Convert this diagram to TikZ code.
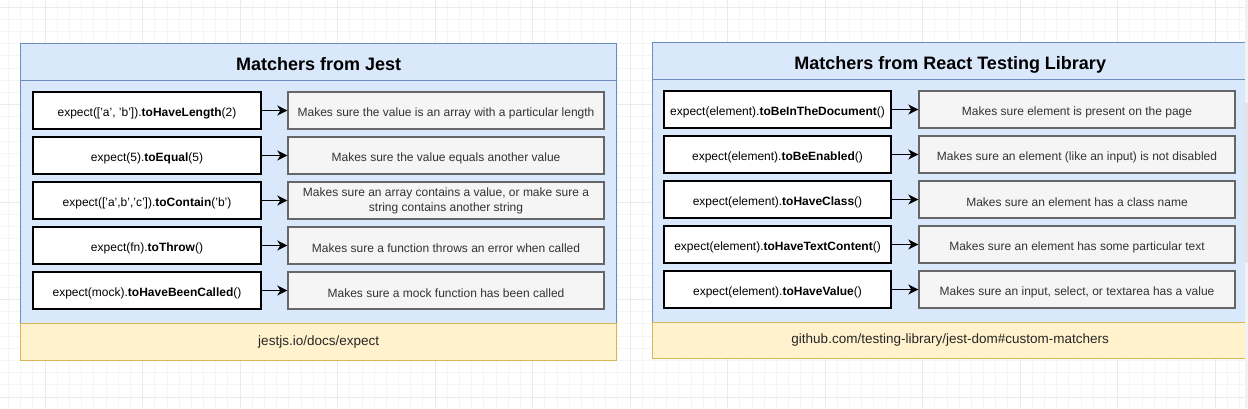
\documentclass[tikz,border=0pt]{standalone}
\usepackage{fontspec}
\setmainfont{Liberation Sans}
\usetikzlibrary{arrows.meta}
\definecolor{panelfill}{HTML}{DAE8FC}
\definecolor{paneldraw}{HTML}{6C8EBF}
\definecolor{footfill}{HTML}{FFF2CC}
\definecolor{footdraw}{HTML}{D6B656}
\definecolor{descfill}{HTML}{F5F5F5}
\definecolor{descdraw}{HTML}{666666}
\definecolor{desctext}{HTML}{333333}
\definecolor{gridminor}{HTML}{F5F5F5}
\definecolor{gridmajor}{HTML}{EAEAEA}
\definecolor{scrolltrack}{HTML}{F2F2F2}
\definecolor{scrollthumb}{HTML}{E4E4E4}
\newcommand\lowstrut{\rule{0pt}{13.6pt}}
\tikzset{
  gridminorline/.style={draw=gridminor, line width=0.8pt},
  gridmajorline/.style={draw=gridmajor, line width=1pt},
  panelbox/.style={draw=paneldraw, fill=panelfill, line width=1.3pt, inner sep=0pt, anchor=north west},
  paneltitle/.style={panelbox, font=\fontsize{18}{21}\selectfont\bfseries, text=black,
    text height=19.6pt, text depth=3.8pt},
  footbox/.style={draw=footdraw, fill=footfill, line width=1.3pt, inner sep=0pt, anchor=north west,
    font=\fontsize{13.5}{16}\selectfont, text=black!85},
  codebox/.style={draw=black, fill=white, line width=1.4pt, inner sep=0pt,
    font=\fontsize{12}{14}\selectfont, text=black, execute at begin node=\lowstrut},
  descbox/.style={draw=descdraw, fill=descfill, line width=1.4pt, inner sep=0pt,
    font=\fontsize{12}{15}\selectfont, text=desctext, align=center, execute at begin node=\lowstrut},
  arr/.style={draw=black, line width=1.4pt, -{Stealth[length=10pt, width=10pt, inset=3pt]}}
}
\begin{document}
\begin{tikzpicture}[x=1pt, y=-1pt]
\useasboundingbox[fill=white] (0,0) rectangle (1248,408);
% background grid
\foreach \i in {0,...,101} \draw[gridminorline] (8.5+\i*12.1875,0) -- (8.5+\i*12.1875,408);
\foreach \j in {0,...,33} \draw[gridminorline] (0,7+\j*12.1875) -- (1248,7+\j*12.1875);
\foreach \i in {0,...,12} \draw[gridmajorline] (45.06+\i*97.5,0) -- (45.06+\i*97.5,408);
\foreach \j in {0,...,4} \draw[gridmajorline] (0,7+\j*97.5) -- (1248,7+\j*97.5);

% ---------- Left panel ----------
\node[panelbox, minimum width=596pt, minimum height=243pt] (lbody) at (20,80) {};
\node[paneltitle, minimum width=596pt, minimum height=37pt] (ltitle) at (20,43) {Matchers from Jest};
\node[footbox, minimum width=596pt, minimum height=37pt] (lfoot) at (20,322.7) {jestjs.io/docs/expect};

\foreach \n/\y in {1/110.5,2/155.5,3/200.5,4/245.5,5/290.5}{
  \coordinate (lc\n) at (147,\y);
  \coordinate (ld\n) at (446,\y);
}
\node[codebox, minimum width=228pt, minimum height=37pt] (j1) at (lc1) {expect(['a', 'b']).\textbf{toHaveLength}(2)};
\node[codebox, minimum width=228pt, minimum height=37pt] (j2) at (lc2) {expect(5).\textbf{toEqual}(5)};
\node[codebox, minimum width=228pt, minimum height=37pt] (j3) at (lc3) {expect(['a',b','c']).\textbf{toContain}('b')};
\node[codebox, minimum width=228pt, minimum height=37pt] (j4) at (lc4) {expect(fn).\textbf{toThrow}()};
\node[codebox, minimum width=228pt, minimum height=37pt] (j5) at (lc5) {expect(mock).\textbf{toHaveBeenCalled}()};

\node[descbox, minimum width=316pt, minimum height=37pt] (jd1) at (ld1) {Makes sure the value is an array with a particular length};
\node[descbox, minimum width=316pt, minimum height=37pt] (jd2) at (ld2) {Makes sure the value equals another value};
\node[descbox, minimum width=316pt, minimum height=37pt] (jd3) at (ld3) {Makes sure an array contains a value, or make sure a\\string contains another string};
\node[descbox, minimum width=316pt, minimum height=37pt] (jd4) at (ld4) {Makes sure a function throws an error when called};
\node[descbox, minimum width=316pt, minimum height=37pt] (jd5) at (ld5) {Makes sure a mock function has been called};

\foreach \n in {1,...,5} \draw[arr] (j\n.east) -- (jd\n.west);

% ---------- Right panel ----------
\node[panelbox, minimum width=595pt, minimum height=242.7pt] (rbody) at (652,79) {};
\node[paneltitle, minimum width=595pt, minimum height=37pt] (rtitle) at (652,42) {Matchers from React Testing Library};
\node[footbox, minimum width=595pt, minimum height=36.3pt] (rfoot) at (652,321.7) {github.com/testing-library/jest-dom\#custom-matchers};

\foreach \n/\y in {1/109.5,2/154.5,3/199.5,4/244.5,5/289.5}{
  \coordinate (rc\n) at (777.5,\y);
  \coordinate (rd\n) at (1077,\y);
}
\node[codebox, minimum width=227pt, minimum height=36.7pt] (r1) at (rc1) {expect(element).\textbf{toBeInTheDocument}()};
\node[codebox, minimum width=227pt, minimum height=36.7pt] (r2) at (rc2) {expect(element).\textbf{toBeEnabled}()};
\node[codebox, minimum width=227pt, minimum height=36.7pt] (r3) at (rc3) {expect(element).\textbf{toHaveClass}()};
\node[codebox, minimum width=227pt, minimum height=36.7pt] (r4) at (rc4) {expect(element).\textbf{toHaveTextContent}()};
\node[codebox, minimum width=227pt, minimum height=36.7pt] (r5) at (rc5) {expect(element).\textbf{toHaveValue}()};

\node[descbox, minimum width=316pt, minimum height=36.7pt] (rd1n) at (rd1) {Makes sure element is present on the page};
\node[descbox, minimum width=316pt, minimum height=36.7pt] (rd2n) at (rd2) {Makes sure an element (like an input) is not disabled};
\node[descbox, minimum width=316pt, minimum height=36.7pt] (rd3n) at (rd3) {Makes sure an element has a class name};
\node[descbox, minimum width=316pt, minimum height=36.7pt] (rd4n) at (rd4) {Makes sure an element has some particular text};
\node[descbox, minimum width=316pt, minimum height=36.7pt] (rd5n) at (rd5) {Makes sure an input, select, or textarea has a value};

\foreach \n in {1,...,5} \draw[arr] (r\n.east) -- (rd\n n.west);

% scrollbar strip at right edge
\fill[scrolltrack] (1245,0) rectangle (1248,408);
\fill[scrollthumb] (1245,103) rectangle (1248,263);
\end{tikzpicture}
\end{document}
